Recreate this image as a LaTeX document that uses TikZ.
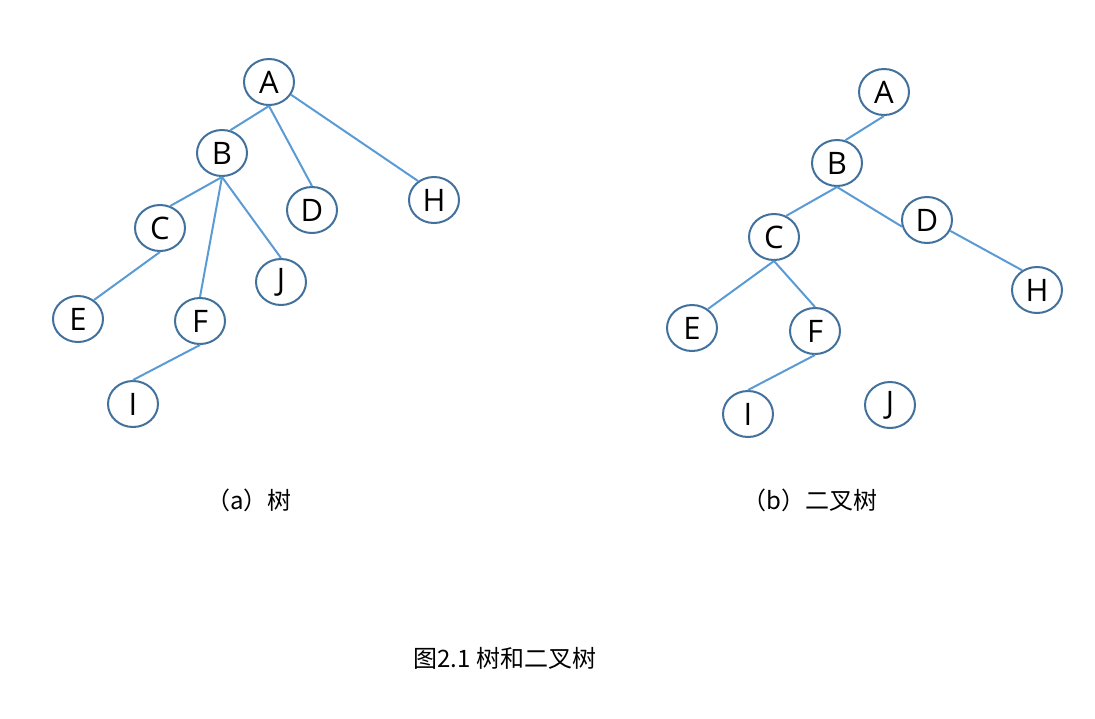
\documentclass[tikz,border=0pt]{standalone}
\usepackage{fontspec}
\setmainfont{Open Sans}
\newfontfamily\cjk{Noto Sans CJK SC}
\usetikzlibrary{shapes.geometric}

\begin{document}
\begin{tikzpicture}[x=1pt,y=-1pt,
        vertex/.style={ellipse,draw=nodeline,line width=2pt,minimum width=50pt,minimum height=46pt,inner sep=0pt,font=\fontsize{31}{31}\selectfont},
        edge/.style={draw=edgeblue,line width=2pt},
        caption/.style={font=\cjk\fontsize{24}{24}\selectfont}]
        \definecolor{nodeline}{HTML}{41719C}
        \definecolor{edgeblue}{HTML}{5B9BD5}
        \useasboundingbox (0,0) rectangle (1095,718);
        % (a) tree
        \node[vertex](A1)at(269,82){A};
        \node[vertex](B1)at(222,153){B};
        \node[vertex](D1)at(312,210){D};
        \node[vertex](H1)at(434,200){H};
        \node[vertex](C1)at(160,228){C};
        \node[vertex](J1)at(281,282){J};
        \node[vertex](E1)at(78,319){E};
        \node[vertex](F1)at(200,321){F};
        \node[vertex](I1)at(133,404){I};
        \draw[edge](A1.south)--(B1.70);
        \draw[edge](A1.south)--(D1.north);
        \draw[edge](A1.-30)--(H1.130);
        \draw[edge](B1.south)--(C1.65);
        \draw[edge](B1.south)--(F1.north);
        \draw[edge](B1.south)--(J1.north);
        \draw[edge](C1.south)--(E1.50);
        \draw[edge](F1.south)--(I1.north);
        % (b) binary tree
        \node[vertex](A2)at(884,92){A};
        \node[vertex](B2)at(837,163){B};
        \node[vertex](C2)at(774,237){C};
        \node[vertex](D2)at(927,220){D};
        \node[vertex](H2)at(1037,290){H};
        \node[vertex](E2)at(692,328){E};
        \node[vertex](F2)at(815,331){F};
        \node[vertex](I2)at(748,414){I};
        \node[vertex](J2)at(890,405){J};
        \draw[edge](A2.south)--(B2.70);
        \draw[edge](B2.south)--(C2.60);
        \draw[edge](B2.south)--(D2.195);
        \draw[edge](D2.-25)--(H2.127);
        \draw[edge](C2.south)--(E2.50);
        \draw[edge](C2.south)--(F2.north);
        \draw[edge](F2.south)--(I2.north);
        % captions
        \node[caption](capa)at(249,500){（a）树};
        \node[caption](capb)at(810,500){（b）二叉树};
        \node[caption](capfig)at(505,658){图2.1 树和二叉树};
\end{tikzpicture}
\end{document}
